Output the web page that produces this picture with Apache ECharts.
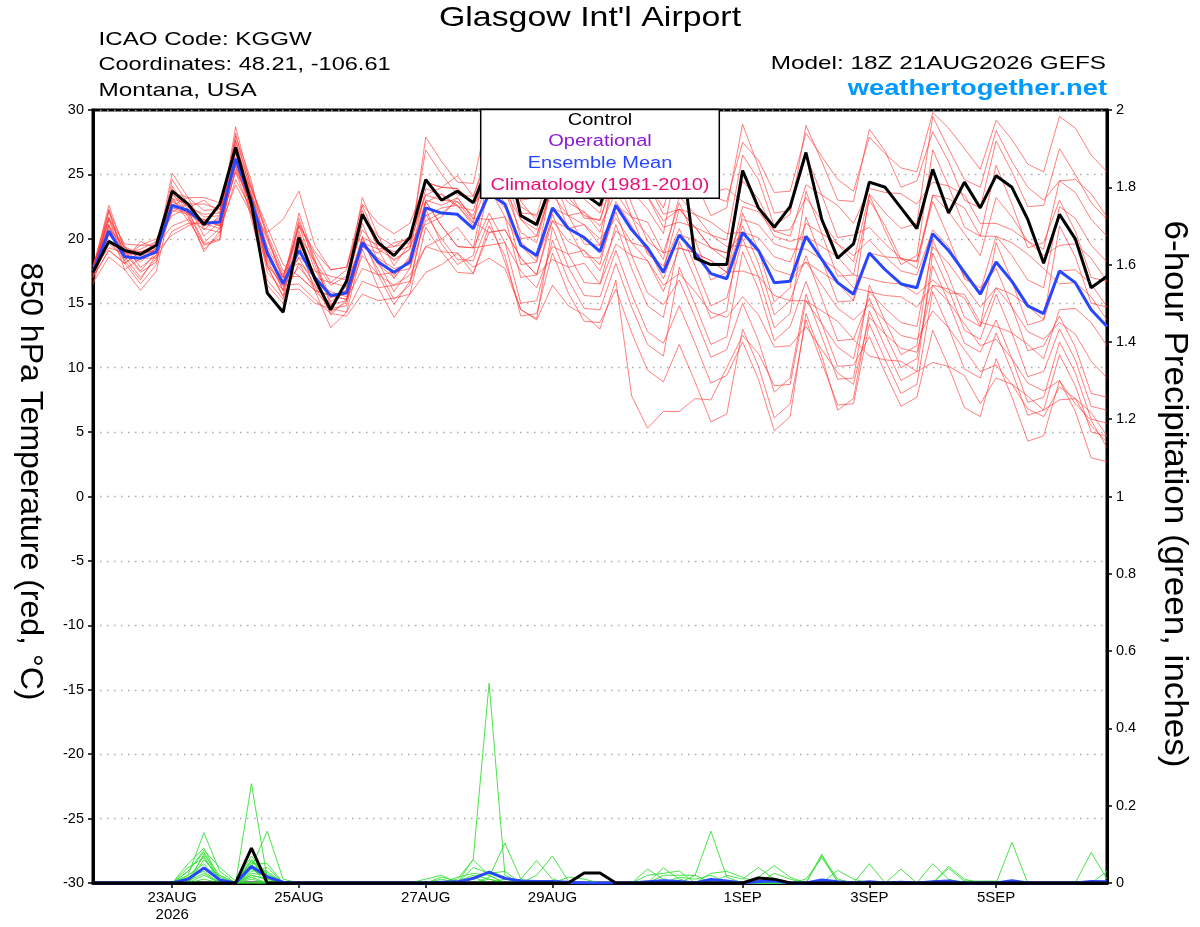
<!DOCTYPE html>
<html><head><meta charset="utf-8">
<script src="https://cdn.jsdelivr.net/npm/echarts@6/dist/echarts.min.js"></script>
<style>html,body{margin:0;padding:0;background:#fff}#c{width:1200px;height:927px}</style>
</head><body><div id="c"></div>
<script>
const FONT = '"Liberation Sans", Arial, Helvetica, sans-serif';
const N = 65; // 6-hourly steps from 18Z 21AUG2026
const tickIdx = [5, 13, 21, 29, 41, 49, 57];
const tickLabels = ['23AUG\n2026', '25AUG', '27AUG', '29AUG', '1SEP', '3SEP', '5SEP'];

const control = [17.4, 19.8,19.1,18.8,19.5, 23.7,22.7,21.1,22.7, 27.1,22.7,15.8,14.3, 20.1,16.9,14.5,16.7, 21.9,19.7,18.7,20.1, 24.6,23.0,23.7,22.8, 25.8,27.3,21.8,21.1, 24.6,24.2,23.5,22.6, 26.0,25.0,24.2,25.5, 28.0,18.5,18.0,18.0, 25.3,22.4,20.9,22.5, 26.7,21.5,18.5,19.6, 24.4,24.0,22.4,20.8, 25.4,22.0,24.4,22.4, 24.9,24.0,21.5,18.1, 21.9,20.0,16.2,17.1];
const ensMean = [17.4, 20.6,18.6,18.5,19.0, 22.6,22.2,21.2,21.3, 26.2,22.9,18.9,16.5, 19.1,17.0,15.6,15.8, 19.7,18.2,17.4,18.2, 22.4,22.0,21.9,20.8, 23.5,22.7,19.5,18.7, 22.4,20.8,20.1,19.0, 22.6,20.7,19.3,17.4, 20.3,18.9,17.3,16.9, 20.5,19.1,16.6,16.7, 20.2,18.4,16.6,15.7, 18.9,17.6,16.5,16.2, 20.4,19.1,17.4,15.7, 18.2,16.7,14.8,14.2, 17.5,16.6,14.5,13.2];

const t01 = [17.6, 21.0,18.8,18.2,19.3, 23.4,22.5,21.9,22.0, 27.6,24.2,20.1,17.2, 20.3,18.2,16.4,17.1, 20.7,19.2,18.4,19.2, 24.4,24.0,23.9,22.8, 26.5,25.7,22.5,21.7, 26.4,24.8,24.1,23.0, 27.6,25.7,24.3,22.4, 26.3,24.9,23.3,22.9, 27.5,26.1,23.6,23.7, 28.2,26.4,24.6,23.7, 27.9,26.6,25.5,25.2, 29.8,28.6,27.0,25.4, 29.2,27.7,25.8,25.2, 29.5,28.6,26.5,25.2];
const t02 = [17.0, 22.1,18.6,17.0,18.5, 23.6,21.7,19.2,20.3, 26.7,21.9,16.4,15.0, 19.6,16.0,13.1,14.3, 19.2,16.2,13.9,15.7, 20.9,19.0,17.4,17.3, 21.0,18.7,14.0,14.2, 18.9,15.8,13.6,13.5, 16.1,12.7,9.8,8.9, 11.8,8.9,5.8,6.4, 13.0,10.1,6.1,7.2, 13.7,10.4,7.1,7.2, 13.4,10.6,8.0,8.7, 15.9,13.1,9.9,9.2, 12.7,9.7,6.3,6.7, 11.0,8.6,5.0,4.7];
const t03 = [17.9, 21.1,19.1,19.0,19.5, 23.6,23.2,22.2,22.3, 26.7,23.4,19.4,17.0, 21.1,19.0,17.6,17.8, 21.7,20.2,19.4,20.2, 23.4,23.0,22.9,21.8, 25.5,24.7,21.5,20.7, 25.4,23.8,23.1,22.0, 26.6,24.7,23.3,21.4, 22.3,20.9,19.3,18.9, 20.5,19.1,16.6,16.7, 18.2,16.4,14.6,13.7, 14.9,13.6,12.5,12.2, 14.4,13.1,11.4,9.7, 10.2,8.7,6.8,6.2, 8.5,7.6,5.5,4.2];
const t04 = [17.0, 19.1,18.1,19.0,19.0, 20.3,21.0,21.5,21.1, 25.2,22.9,19.9,17.0, 17.1,16.0,15.6,15.3, 17.7,17.2,17.4,17.7, 21.4,22.0,22.9,21.3, 20.5,20.7,18.5,17.2, 18.4,17.8,18.1,16.5, 19.6,18.7,18.3,15.9, 19.3,18.9,18.3,17.4, 22.5,22.1,20.6,20.2, 24.2,23.4,22.6,21.2, 23.9,23.6,23.5,22.7, 24.4,24.1,23.4,21.2, 21.2,20.7,19.8,18.7, 19.5,19.6,18.5,16.7];
const t05 = [17.2, 22.3,18.3,16.8,18.8, 24.6,22.7,20.2,21.3, 28.7,23.9,18.4,17.0, 21.0,18.8,16.6,17.6, 22.2,19.2,16.9,18.7, 22.9,21.0,19.4,19.3, 22.0,19.7,15.0,15.2, 19.9,16.8,14.6,14.5, 18.1,14.7,11.8,10.9, 17.8,14.9,11.8,12.4, 19.0,16.1,12.1,13.2, 16.7,13.4,10.1,10.2, 12.4,9.6,7.0,7.7, 12.9,10.1,6.9,6.2, 10.7,7.7,4.3,4.7, 9.0,6.6,3.0,2.7];
const t06 = [17.8, 21.6,19.6,19.5,20.0, 22.4,22.0,21.5,21.0, 25.2,21.9,17.9,15.5, 18.1,16.0,14.6,14.8, 20.0,18.0,17.0,18.5, 23.0,22.6,23.2,21.5, 24.5,23.7,20.5,19.7, 24.4,22.8,22.1,21.0, 23.6,21.7,20.3,18.4, 23.3,21.9,20.3,19.9, 26.5,24.6,21.0,21.9, 28.8,26.0,23.0,22.9, 28.5,26.8,24.0,24.5, 28.3,26.0,23.0,22.4, 27.6,25.2,22.5,22.6, 27.0,25.0,22.8,21.5];
const t07 = [16.6, 18.6,17.6,18.5,18.5, 20.6,21.2,21.2,20.8, 24.2,21.9,18.9,16.0, 16.1,15.0,14.6,14.3, 16.7,16.2,16.4,16.7, 19.4,20.0,20.9,19.3, 19.5,19.7,17.5,16.2, 19.4,18.8,19.1,17.5, 20.6,19.7,19.3,16.9, 20.3,19.9,19.3,18.4, 21.5,21.1,19.6,19.2, 19.2,18.4,17.6,16.2, 15.9,15.6,15.5,14.7, 16.4,16.1,15.4,13.2, 16.2,15.7,14.8,13.7, 17.5,17.6,16.5,14.7];
const t08 = [17.6, 22.6,19.1,17.5,19.0, 25.1,23.2,20.7,21.8, 28.0,24.5,18.8,16.6, 22.0,18.4,14.8,16.6, 23.2,20.2,17.9,19.7, 26.9,25.0,23.4,23.3, 27.0,24.7,20.0,20.2, 23.9,20.8,18.6,18.5, 22.1,18.7,15.8,14.9, 16.8,13.9,10.8,11.4, 15.0,12.1,8.1,9.2, 15.7,12.4,9.1,9.2, 16.4,13.6,11.0,11.7, 19.9,17.1,13.9,13.2, 19.7,16.7,13.3,13.7, 21.0,18.6,15.0,14.7];
const t09 = [17.3, 20.3,18.9,18.7,19.2, 22.9,22.0,21.0,21.6, 25.7,22.4,18.4,16.0, 19.4,16.8,15.9,15.5, 18.7,17.2,16.4,17.2, 19.4,19.0,18.9,17.8, 18.5,17.7,14.5,13.7, 16.4,14.8,14.1,13.0, 16.8,7.8,5.3,6.6, 6.6,7.6,7.5,10.0, 12.5,11.1,8.6,8.7, 15.2,13.4,11.6,10.7, 15.9,14.6,13.5,13.2, 19.4,18.1,16.4,14.7, 16.2,14.7,12.8,12.2, 13.5,12.6,10.5,9.2];
const t10 = [17.1, 19.1,18.1,19.0,19.0, 22.1,22.7,22.7,22.3, 26.2,23.9,20.9,18.0, 17.1,16.0,15.6,15.3, 19.7,19.2,19.4,19.7, 23.4,24.0,24.9,23.3, 26.5,26.7,24.5,23.2, 26.4,25.8,26.1,24.5, 25.6,24.7,24.3,21.9, 22.3,21.9,21.3,20.4, 20.5,20.1,18.6,18.2, 21.2,20.4,19.6,18.2, 23.5,22.0,20.8,21.2, 29.5,27.0,24.6,24.0, 28.4,26.0,24.0,23.0, 24.5,24.6,23.5,21.7];
const t11 = [17.5, 21.7,18.9,17.4,18.2, 23.9,21.9,19.0,20.6, 27.7,22.9,17.4,16.0, 21.6,18.0,15.1,16.3, 21.2,18.2,15.9,17.7, 22.9,21.0,19.4,19.3, 25.0,22.7,18.0,18.2, 24.9,21.8,19.6,19.5, 26.1,22.7,19.8,18.9, 22.8,19.9,16.8,17.4, 21.0,18.1,14.1,15.2, 18.7,15.4,12.1,12.2, 15.4,12.6,10.0,10.7, 17.9,15.1,11.9,11.2, 13.7,10.7,7.3,7.7, 12.0,9.6,6.0,5.7];
const t12 = [17.9, 21.4,19.3,18.7,19.8, 23.1,22.7,21.7,21.8, 27.2,23.9,20.5,21.5, 23.7,19.5,17.6,17.8, 22.7,21.2,20.4,21.2, 24.4,24.0,23.9,22.8, 23.8,22.4,19.8,18.5, 21.4,19.8,19.1,18.0, 22.9,21.0,19.0,17.6, 22.3,20.9,19.3,18.9, 24.5,23.1,20.6,20.7, 23.2,21.4,19.6,18.7, 19.9,18.6,17.5,17.2, 20.7,19.4,17.1,15.9, 20.2,18.7,16.8,16.2, 22.5,21.6,19.5,18.2];
const t13 = [17.2, 19.6,18.6,19.5,19.5, 21.0,21.5,20.8,20.5, 24.6,22.3,19.2,16.4, 16.5,15.3,14.2,14.0, 15.7,15.2,15.4,15.7, 17.4,18.0,18.9,17.3, 20.5,20.7,18.5,17.2, 21.4,20.8,21.1,19.5, 22.6,21.7,21.3,18.9, 19.3,18.9,18.3,17.4, 17.5,17.1,15.6,15.2, 15.2,14.4,13.6,12.2, 10.9,10.6,10.5,9.7, 10.4,10.1,9.4,7.2, 9.2,8.7,7.8,6.7, 7.5,7.6,6.5,4.7];
const t14 = [17.0, 21.6,18.1,16.5,18.0, 24.1,22.2,19.7,20.8, 28.2,23.4,17.9,16.5, 21.0,17.6,15.5,16.0, 22.6,19.6,18.3,19.2, 27.9,26.0,24.4,24.3, 30.0,27.7,23.0,23.2, 26.9,23.8,21.6,21.5, 25.1,21.7,18.8,17.9, 20.8,17.9,14.8,15.4, 20.0,17.1,13.1,14.2, 21.7,18.4,15.1,15.2, 23.4,20.6,18.0,18.7, 26.9,24.1,20.9,20.2, 25.7,22.7,19.3,19.7, 23.0,20.6,17.0,16.7];
const t15 = [17.3, 20.4,18.7,18.4,18.9, 22.4,22.3,21.0,21.4, 26.0,23.1,18.7,16.7, 18.5,16.4,14.9,15.2, 19.5,18.4,17.2,18.4, 23.9,23.4,22.5,22.2, 26.0,25.9,22.9,21.4, 24.0,23.2,21.8,21.4, 25.6,23.7,22.3,20.4, 26.8,24.5,21.8,22.4, 28.9,25.6,22.0,22.2, 26.5,23.4,20.1,20.3, 20.9,19.6,18.5,18.2, 23.4,22.1,20.4,18.7, 23.2,21.7,19.8,19.2, 24.5,23.6,21.5,20.2];
const t16 = [17.9, 22.2,19.4,17.8,18.7, 23.2,21.4,19.6,20.0, 26.3,21.5,16.8,15.3, 20.6,17.0,14.1,15.3, 20.2,17.2,14.9,16.7, 21.9,20.0,18.4,18.3, 21.5,18.2,14.5,13.8, 20.9,17.8,15.6,15.5, 19.1,15.7,12.8,11.9, 14.8,11.9,8.8,9.4, 12.0,9.1,5.1,6.2, 14.2,10.9,6.7,7.6, 14.4,11.6,9.0,9.7, 18.9,16.1,12.9,12.2, 15.7,12.7,9.3,9.7, 13.0,10.6,7.0,6.7];
const t17 = [17.4, 19.9,18.3,19.8,19.2, 22.6,23.2,23.2,22.8, 25.7,23.4,20.4,17.5, 18.1,17.0,16.6,16.3, 20.1,19.5,19.0,19.4, 21.8,22.4,22.6,21.0, 23.5,23.7,21.5,20.2, 24.4,23.8,24.1,22.5, 28.3,26.0,24.8,23.3, 27.6,25.4,23.6,23.9, 22.9,22.4,20.2,19.8, 20.2,19.4,18.6,17.2, 16.9,16.6,16.5,15.7, 16.8,15.8,15.7,13.5, 13.2,12.7,11.8,10.7, 14.5,14.6,13.5,11.7];
const t18 = [16.4, 21.1,17.6,16.0,17.5, 23.0,22.1,19.5,19.9, 27.3,23.3,17.8,15.6, 21.3,18.3,15.4,16.0, 19.8,17.6,15.3,16.4, 22.3,19.6,18.0,18.7, 24.0,21.7,17.0,17.2, 21.9,18.8,16.6,16.5, 21.1,17.7,14.8,13.9, 19.8,16.9,13.8,14.4, 22.0,19.1,15.1,16.2, 23.7,20.4,17.1,17.2, 23.0,21.0,18.4,18.3, 22.9,20.1,16.9,16.2, 17.7,14.7,11.3,11.7, 14.0,11.6,8.0,7.7];
const t19 = [17.9, 20.8,19.4,18.8,19.2, 22.2,21.9,21.4,21.0, 25.4,22.8,18.1,16.3, 17.8,16.3,14.3,15.1, 19.4,18.5,17.7,18.0, 22.8,23.5,22.6,21.2, 27.0,25.2,22.0,21.9, 23.4,21.8,21.1,20.0, 21.6,19.7,18.3,16.4, 17.3,15.9,14.3,13.9, 15.5,14.1,11.6,11.7, 13.2,11.4,9.6,8.7, 13.9,12.6,11.5,11.2, 16.4,15.1,13.4,11.7, 12.2,10.7,8.8,8.2, 9.0,7.2,5.9,3.8];
const t20 = [17.6, 19.3,18.9,19.2,19.8, 21.8,22.4,23.0,22.0, 25.6,22.5,20.2,16.7, 18.6,17.5,17.1,16.8, 19.4,18.9,19.7,20.0, 21.1,21.7,23.2,21.6, 21.5,21.7,19.5,18.2, 22.4,21.8,22.1,20.5, 24.6,23.7,23.3,20.9, 21.3,20.9,20.3,19.4, 19.5,19.1,17.6,17.2, 18.2,17.4,16.6,15.2, 18.9,18.6,18.5,17.7, 23.4,23.1,22.4,20.2, 20.2,19.7,18.8,17.7, 16.5,16.6,15.5,13.7];
const tempMembers = [t01,t02,t03,t04,t05,t06,t07,t08,t09,t10,t11,t12,t13,t14,t15,t16,t17,t18,t19,t20];

// 6-hour precipitation (inches): [step, value] for non-zero steps
const ctrlPrecip = [[10,0.09],[31,0.026],[32,0.026],[42,0.013],[43,0.01]];
const meanPrecip = [[6,0.01],[7,0.039],[8,0.008],[10,0.043],[11,0.016],[12,0.002],[22,0.002],[23,0.003],[24,0.012],[25,0.028],[26,0.012],[27,0.005],[28,0.004],[29,0.004],[30,0.002],[35,0.003],[36,0.006],[37,0.004],[39,0.009],[40,0.005],[42,0.004],[43,0.005],[46,0.008],[47,0.003],[49,0.003],[51,0.002],[53,0.003],[54,0.005],[58,0.006],[63,0.004],[64,0.003]];
const p01 = [[6,0.02],[7,0.13],[8,0.03],[10,0.06],[11,0.02],[35,0.036],[36,0.01]];
const p02 = [[6,0.05],[7,0.09],[8,0.01],[10,0.257],[11,0.01],[36,0.039],[37,0.01]];
const p03 = [[6,0.03],[7,0.085],[8,0.04],[9,0.005],[10,0.04],[11,0.134],[12,0.01],[35,0.02],[36,0.025],[37,0.031]];
const p04 = [[7,0.075],[8,0.02],[10,0.05],[11,0.05],[38,0.02],[39,0.134],[40,0.015]];
const p05 = [[6,0.01],[7,0.07],[10,0.03],[11,0.04],[24,0.062],[25,0.517],[26,0.02],[46,0.075]];
const p06 = [[6,0.04],[7,0.065],[8,0.01],[10,0.07],[11,0.02],[39,0.025],[40,0.03],[41,0.015],[46,0.07],[47,0.01]];
const p07 = [[7,0.06],[8,0.015],[10,0.02],[11,0.01],[36,0.02],[37,0.02],[38,0.02]];
const p08 = [[6,0.02],[7,0.05],[10,0.045],[11,0.03],[23,0.01],[24,0.06],[25,0.02],[47,0.033],[48,0.01]];
const p09 = [[7,0.04],[8,0.02],[10,0.015],[40,0.02],[41,0.01],[42,0.04],[43,0.01]];
const p10 = [[6,0.015],[7,0.03],[10,0.035],[11,0.015],[25,0.015],[26,0.103],[27,0.01],[49,0.05]];
const p11 = [[7,0.02],[10,0.055],[11,0.025],[22,0.015],[23,0.005],[24,0.02],[25,0.01],[51,0.036]];
const p12 = [[6,0.03],[7,0.08],[8,0.005],[10,0.01],[24,0.04],[25,0.025],[26,0.03],[53,0.05],[54,0.01]];
const p13 = [[7,0.01],[10,0.06],[11,0.005],[42,0.015],[43,0.045],[44,0.015],[55,0.005],[56,0.005],[57,0.005]];
const p14 = [[6,0.005],[7,0.025],[21,0.01],[22,0.02],[24,0.015],[54,0.043],[55,0.01]];
const p15 = [[10,0.025],[11,0.02],[23,0.015],[24,0.025],[25,0.02],[54,0.038],[55,0.005]];
const p16 = [[10,0.04],[43,0.025],[44,0.01],[58,0.105]];
const p17 = [[10,0.02],[11,0.01],[27,0.01],[28,0.058],[29,0.01],[63,0.079],[64,0.01]];
const p18 = [[22,0.01],[25,0.01],[28,0.02],[29,0.07],[30,0.005],[64,0.03]];
const p19 = [[24,0.01],[25,0.03],[26,0.015],[37,0.015],[38,0.01],[39,0.02]];
const p20 = [[26,0.01],[27,0.005],[30,0.015],[31,0.01],[45,0.01],[46,0.065],[47,0.005]];
const precipMembers = [p01,p02,p03,p04,p05,p06,p07,p08,p09,p10,p11,p12,p13,p14,p15,p16,p17,p18,p19,p20];

function fullSeries(sparse) { const a = new Array(N).fill(0); sparse.forEach(([i, v]) => { a[i] = v; }); return a; }
function pts(arr) { return arr.map((v, i) => [i, v]); }
function lineSeries(data, yIdx, color, width, z) {
  return { type: 'line', data: pts(data), yAxisIndex: yIdx, symbol: 'none', showSymbol: false, silent: true,
    lineStyle: { color: color, width: width }, itemStyle: { color: color }, z: z, animation: false };
}

const series = [];
tempMembers.forEach(m => series.push(lineSeries(m, 0, 'rgba(255,50,50,0.78)', 0.8, 2)));
precipMembers.forEach(m => series.push(lineSeries(fullSeries(m), 1, '#36e036', 0.9, 3)));
series.push(lineSeries(fullSeries(meanPrecip), 1, '#2846ff', 3, 5));
series.push(lineSeries(fullSeries(ctrlPrecip), 1, '#000000', 3, 6));
series.push(lineSeries(ensMean, 0, '#2846ff', 3, 7));
series.push(lineSeries(control, 0, '#000000', 3, 8));

function txt(x, y, text, size, opts) {
  opts = opts || {};
  return { type: 'text', x: x, y: y, z: 100, scaleX: opts.sx || 1, rotation: opts.rot || 0, silent: true,
    style: { text: text, fill: opts.color || '#000', font: (opts.bold ? 'bold ' : '') + size + 'px ' + FONT,
      textAlign: opts.align || 'left', textVerticalAlign: 'middle', align: opts.align || 'left', verticalAlign: 'middle' } };
}

const option = {
  backgroundColor: '#fff',
  animation: false,
  grid: { left: 93, right: 93, top: 110, bottom: 44, show: true, borderColor: '#000', borderWidth: 3, backgroundColor: 'transparent' },
  xAxis: {
    type: 'value', min: 0, max: N - 1,
    axisLine: { show: true, onZero: false, lineStyle: { color: '#000', width: 3 } },
    axisTick: { show: true, customValues: tickIdx, length: 5, lineStyle: { color: '#000', width: 1.5 } },
    axisLabel: { customValues: tickIdx, formatter: v => { const k = tickIdx.indexOf(Math.round(v)); return k >= 0 ? tickLabels[k] : ''; },
      color: '#000', fontSize: 15, fontFamily: FONT, margin: 6, lineHeight: 17 },
    splitLine: { show: false }
  },
  yAxis: [
    { type: 'value', min: -30, max: 30, interval: 5, position: 'left',
      axisLine: { show: true, lineStyle: { color: '#000', width: 3 } },
      axisTick: { show: true, length: 5, lineStyle: { color: '#000', width: 1.5 } },
      axisLabel: { color: '#000', fontSize: 14.5, fontFamily: FONT, margin: 9 },
      splitLine: { show: true, lineStyle: { color: '#a8a8a8', width: 1.3, type: [1.5, 5.5] } } },
    { type: 'value', min: 0, max: 2, interval: 0.2, position: 'right',
      axisLine: { show: true, lineStyle: { color: '#000', width: 3 } },
      axisTick: { show: true, length: 5, lineStyle: { color: '#000', width: 1.5 } },
      axisLabel: { color: '#000', fontSize: 14.5, fontFamily: FONT, margin: 9, formatter: v => String(+v.toFixed(1)) },
      splitLine: { show: false } }
  ],
  graphic: [
    txt(590, 18.5, "Glasgow Int'l Airport", 28, { align: 'center', sx: 1.21 }),
    txt(98.5, 39.5, 'ICAO Code: KGGW', 19, { sx: 1.27 }),
    txt(98.5, 64.5, 'Coordinates: 48.21, -106.61', 19, { sx: 1.24 }),
    txt(98.5, 91, 'Montana, USA', 19, { sx: 1.28 }),
    txt(1106, 64, 'Model: 18Z 21AUG2026 GEFS', 19, { align: 'right', sx: 1.28 }),
    txt(1107, 88.5, 'weathertogether.net', 22, { align: 'right', sx: 1.24, bold: true, color: '#0099ff' }),
    txt(30, 481.5, '850 hPa Temperature (red, \u00B0C)', 32, { align: 'center', rot: -Math.PI / 2 }),
    txt(1174, 494, '6-hour Precipitation (green, inches)', 34, { align: 'center', rot: -Math.PI / 2, sx: 1.03 }),
    { type: 'rect', z: 99, silent: true, shape: { x: 480.7, y: 109.5, width: 238.6, height: 88.8 },
      style: { fill: '#fff', stroke: '#000', lineWidth: 1.5 } },
    txt(600, 120.8, 'Control', 16, { align: 'center', sx: 1.25 }),
    txt(600, 142, 'Operational', 16, { align: 'center', sx: 1.25, color: '#8a1ad8' }),
    txt(600, 164, 'Ensemble Mean', 16, { align: 'center', sx: 1.25, color: '#2846ff' }),
    txt(600, 186, 'Climatology (1981-2010)', 16, { align: 'center', sx: 1.25, color: '#e8107a' })
  ],
  series: series
};

const chart = echarts.init(document.getElementById('c'), null, { renderer: 'canvas' });
chart.setOption(option);
</script>
</body></html>
